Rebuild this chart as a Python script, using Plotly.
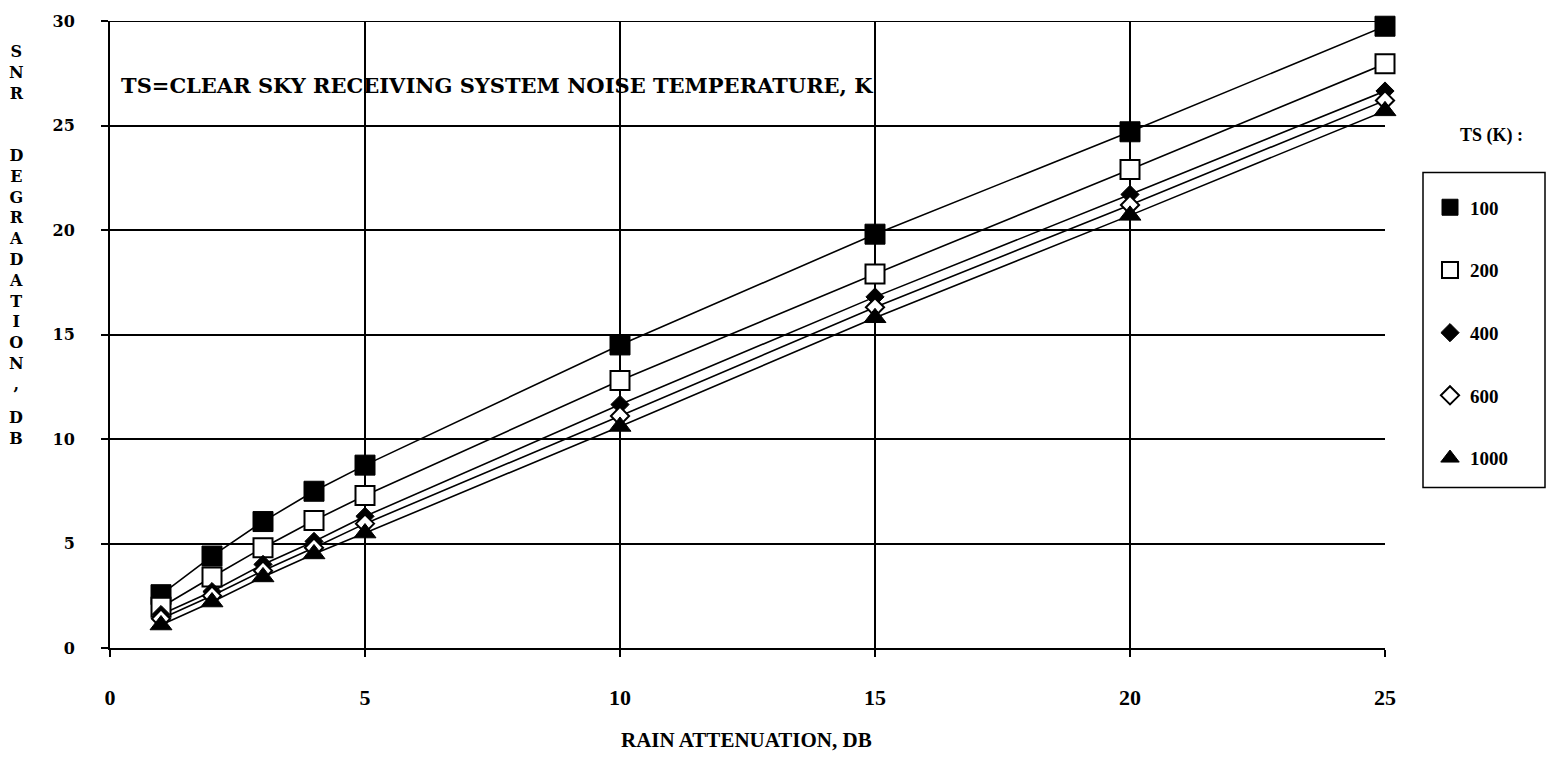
import plotly.graph_objects as go

# Rain attenuation (dB) on the x axis
rain_atten_db = [1, 2, 3, 4, 5, 10, 15, 20, 25]

# SNR degradation (dB) for each clear-sky system noise temperature
snr_ts100 = [2.55, 4.4, 6.05, 7.5, 8.75, 14.5, 19.8, 24.7, 29.75]
snr_ts200 = [1.95, 3.4, 4.8, 6.1, 7.3, 12.8, 17.9, 22.9, 27.95]
snr_ts400 = [1.6, 2.7, 4.0, 5.1, 6.3, 11.65, 16.8, 21.7, 26.65]
snr_ts600 = [1.4, 2.5, 3.7, 4.8, 5.95, 11.1, 16.3, 21.2, 26.2]
snr_ts1000 = [1.1, 2.2, 3.4, 4.5, 5.5, 10.6, 15.8, 20.7, 25.7]

ts_labels = ["100", "200", "400", "600", "1000"]
x_ticks = [0, 5, 10, 15, 20, 25]
y_ticks = [0, 5, 10, 15, 20, 25, 30]

SERIF = "Liberation Serif, Times New Roman, serif"
WIDE_SERIF = "DejaVu Serif, serif"

# plotting area in pixels (used to place paper-referenced items)
W, H = 1547, 762
L, R, T, B = 110, 1385, 15, 648


def px_x(px):
    return (px - L) / (R - L)


def px_y(py):
    return (B - py) / (B - T)


series = [snr_ts100, snr_ts200, snr_ts400, snr_ts600, snr_ts1000]
marker_styles = [
    dict(symbol="square", size=20, color="black", line=dict(color="black", width=1)),
    dict(symbol="square", size=19, color="white", line=dict(color="black", width=2)),
    dict(symbol="diamond", size=14, color="black", line=dict(color="black", width=1)),
    dict(symbol="diamond", size=14, color="white", line=dict(color="black", width=2)),
    dict(symbol="triangle-up", size=19, color="black", line=dict(color="black", width=1)),
]

fig = go.Figure()

# connecting lines first so the markers sit on top of them
for vals in series:
    fig.add_trace(go.Scatter(
        x=rain_atten_db, y=vals, mode="lines",
        line=dict(color="black", width=1.6),
        showlegend=False, hoverinfo="skip", cliponaxis=False,
    ))

for lbl, vals, ms in zip(ts_labels, series, marker_styles):
    fig.add_trace(go.Scatter(
        x=rain_atten_db, y=vals, mode="markers", name=lbl,
        legendgroup=lbl, marker=ms, cliponaxis=False,
    ))

axis_common = dict(
    showline=True, linecolor="black", linewidth=2,
    showgrid=True, gridcolor="black", gridwidth=2,
    zeroline=False, ticks="outside", ticklen=7, tickwidth=1.5,
    tickcolor="black",
)

fig.update_xaxes(
    range=[0, 25], tickvals=x_ticks, ticktext=[str(v) for v in x_ticks],
    ticklabelstandoff=22,
    tickfont=dict(family=SERIF, size=22, color="black", weight="bold"),
    **axis_common,
)
fig.update_yaxes(
    range=[0, 30], tickvals=y_ticks, ticktext=[str(v) for v in y_ticks],
    ticklabelstandoff=23,
    tickfont=dict(family=WIDE_SERIF, size=16, color="black", weight="bold"),
    **axis_common,
)

# top border of the plotting area
fig.add_shape(type="line", xref="x", yref="y", x0=0, x1=25, y0=30, y1=30,
              line=dict(color="black", width=2))

# legend frame
fig.add_shape(type="rect", xref="paper", yref="paper",
              x0=px_x(1423), x1=px_x(1545), y0=px_y(168), y1=px_y(486),
              line=dict(color="black", width=1.5), fillcolor="white", layer="below")

fig.add_annotation(
    text="TS=CLEAR SKY RECEIVING SYSTEM NOISE TEMPERATURE, K",
    xref="paper", yref="paper", x=px_x(119), y=px_y(80), xanchor="left", yanchor="middle",
    showarrow=False, font=dict(family=WIDE_SERIF, size=21, color="black", weight="bold"),
)

fig.add_annotation(
    text="RAIN ATTENUATION, DB",
    xref="paper", yref="paper", x=px_x(746), y=px_y(741),
    xanchor="center", yanchor="middle",
    showarrow=False, font=dict(family=SERIF, size=21, color="black", weight="bold"),
)

ylab_font = dict(family=WIDE_SERIF, size=16, color="black", weight="bold")
fig.add_annotation(
    text="<br>".join(["S", "N", "R", " ", " ", "D", "E", "G", "R", "A", "D",
                      "A", "T", "I", "O", "N", ","]),
    xref="paper", yref="paper", x=px_x(16), y=px_y(34),
    xanchor="center", yanchor="top", align="center",
    showarrow=False, font=ylab_font,
)
fig.add_annotation(
    text="D<br>B",
    xref="paper", yref="paper", x=px_x(16), y=px_y(404),
    xanchor="center", yanchor="top", align="center",
    showarrow=False, font=ylab_font,
)

fig.add_annotation(
    text="TS (K) :",
    xref="paper", yref="paper", x=px_x(1491), y=px_y(131),
    xanchor="center", yanchor="middle",
    showarrow=False, font=dict(family=SERIF, size=18, color="black", weight="bold"),
)

fig.update_layout(
    width=W, height=H,
    margin=dict(l=L, r=W - R, t=T, b=H - B),
    plot_bgcolor="white", paper_bgcolor="white",
    legend=dict(
        x=px_x(1430), y=px_y(184),
        xanchor="left", yanchor="top",
        borderwidth=0, bgcolor="rgba(0,0,0,0)",
        font=dict(family=SERIF, size=19, color="black", weight="bold"),
        tracegroupgap=35,
    ),
)

fig.write_html("out.html")
